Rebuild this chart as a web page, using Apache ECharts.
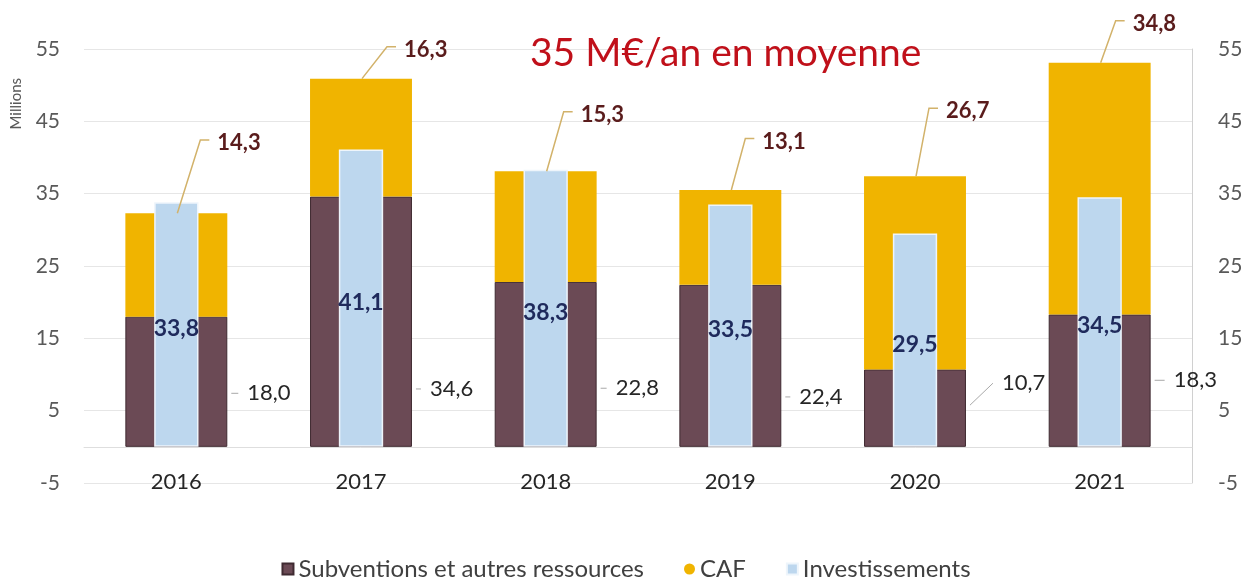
<!DOCTYPE html>
<html><head><meta charset="utf-8">
<script src="https://cdn.jsdelivr.net/npm/echarts@6/dist/echarts.min.js"></script>
<style>html,body{margin:0;padding:0;background:#fff}#c{width:1252px;height:578px}</style>
</head><body><div id="c"></div>
<script>
// ---- data ----
const categories = ['2016', '2017', '2018', '2019', '2020', '2021'];
const subventions = [18.0, 34.6, 22.8, 22.4, 10.7, 18.3];
const caf = [14.3, 16.3, 15.3, 13.1, 26.7, 34.8];
const investissements = [33.8, 41.1, 38.3, 33.5, 29.5, 34.5];
const seriesNames = ['Subventions et autres ressources', 'CAF', 'Investissements'];
const titleText = '35 M€/an en moyenne';
const unitText = 'Millions';

// ---- label placement (not data) ----
const cafLabelLevel = [42.0, 54.9, 45.9, 42.2, 46.4, 58.5];   // value level of label centre
const cafLabelDx = [41, 43, 35, 32, 31, 33];                  // px from category centre
const subvLabelLevel = [7.4, 8.0, 8.1, 6.9, 8.8, 9.2];
const subvLabelGap = [20, 18, 19, 18, 36, 23];                 // px from bar right edge
const subvLineDrop = [0, 0, 0, 0, 22, 0];

const FONT = 'Lato, "Open Sans", sans-serif';
const WIDE = 0.552, NARROW = 0.24;
const fmt = v => v.toFixed(1).replace('.', ',');

const chart = echarts.init(document.getElementById('c'), null, {renderer: 'canvas'});

const yAxisBase = {
  type: 'value', min: -5, max: 55, interval: 10,
  axisTick: {show: false},
  axisLabel: {fontSize: 21, color: '#595959', fontFamily: FONT}
};

const option = {
  animation: false,
  textStyle: {fontFamily: FONT},
  title: {
    text: titleText, left: 525, top: 29,
    textStyle: {color: '#c0101a', fontSize: 39, fontWeight: 'normal', fontFamily: FONT}
  },
  graphic: [{
    type: 'text', left: 9, top: 78, rotation: Math.PI / 2,
    style: {text: unitText, font: '15px ' + FONT, fill: '#595959'}
  }],
  legend: {
    top: 552, left: 'center', itemGap: 40, itemWidth: 11, itemHeight: 11,
    textStyle: {fontSize: 24, color: '#404040', fontFamily: FONT},
    data: [
      {name: seriesNames[0], icon: 'rect'},
      {name: seriesNames[1], icon: 'circle'},
      {name: seriesNames[2], icon: 'rect'}
    ]
  },
  grid: {left: 84, right: 60, top: 49, bottom: 95},
  xAxis: [{
    type: 'category', data: categories,
    axisLine: {onZero: true, lineStyle: {color: '#dedede'}},
    axisTick: {show: false},
    axisLabel: {fontSize: 22, color: '#262626', margin: -12, fontFamily: FONT}
  }, {
    type: 'category', data: categories, show: false
  }],
  yAxis: [
    Object.assign({}, yAxisBase, {
      position: 'left', axisLine: {show: false},
      axisLabel: Object.assign({}, yAxisBase.axisLabel, {margin: 24}),
      splitLine: {show: true, lineStyle: {color: '#e6e6e6'}}
    }),
    Object.assign({}, yAxisBase, {
      position: 'right', axisLine: {show: true, lineStyle: {color: '#d0d0d0'}},
      axisLabel: Object.assign({}, yAxisBase.axisLabel, {margin: 26}),
      splitLine: {show: false}
    })
  ],
  series: [
    {
      name: seriesNames[0], type: 'bar', stack: 'res', xAxisIndex: 0, yAxisIndex: 0,
      barWidth: (WIDE * 100) + '%', data: subventions,
      itemStyle: {color: '#6b4a55', borderColor: '#3f2a31', borderWidth: 1}
    },
    {
      name: seriesNames[1], type: 'bar', stack: 'res', xAxisIndex: 0, yAxisIndex: 0,
      barWidth: (WIDE * 100) + '%', data: caf,
      itemStyle: {color: '#f0b400'}
    },
    {
      name: seriesNames[2], type: 'bar', xAxisIndex: 1, yAxisIndex: 0,
      barWidth: (NARROW * 100) + '%', data: investissements, z: 3,
      itemStyle: {color: '#bdd7ee', borderColor: '#eef5fb', borderWidth: 1.5},
      label: {
        show: true, position: 'inside', offset: [0, 4],
        formatter: p => fmt(p.value),
        fontSize: 23, fontWeight: 'bold', color: '#1f2a5c', fontFamily: FONT
      }
    },
    {
      name: 'cafLabels', type: 'custom', xAxisIndex: 0, yAxisIndex: 0, z: 5,
      silent: true, legendHoverLink: false,
      data: categories.map((c, i) => [i, caf[i]]),
      encode: {x: 0, y: 1},
      renderItem: function (params, api) {
        const i = params.dataIndex;
        const top = api.coord([i, subventions[i] + caf[i]]);
        const ly = api.coord([i, cafLabelLevel[i]])[1];
        const lx = top[0] + cafLabelDx[i];
        return {
          type: 'group', children: [
            {type: 'polyline', shape: {points: [[top[0] + 1, top[1]], [lx - 17, ly - 3], [lx - 8, ly - 3]]},
             style: {stroke: '#d2b26a', lineWidth: 1.5, fill: null}},
            {type: 'text', style: {x: lx, y: ly, text: fmt(caf[i]), fill: '#5a1c1c',
             font: 'bold 22px ' + FONT, align: 'left', verticalAlign: 'middle'}}
          ]
        };
      }
    },
    {
      name: 'subvLabels', type: 'custom', xAxisIndex: 0, yAxisIndex: 0, z: 5,
      silent: true, legendHoverLink: false,
      data: categories.map((c, i) => [i, subventions[i]]),
      encode: {x: 0, y: 1},
      renderItem: function (params, api) {
        const i = params.dataIndex;
        const base = api.coord([i, 0]);
        const bw = api.size([1, 0])[0] * WIDE;
        const right = base[0] + bw / 2;
        const ly = api.coord([i, subvLabelLevel[i]])[1];
        const lx = right + subvLabelGap[i];
        return {
          type: 'group', children: [
            {type: 'polyline', shape: {points: [[right + 4, ly + subvLineDrop[i]], [lx - 9, ly]]},
             style: {stroke: '#a8a8a8', lineWidth: 1, fill: null}},
            {type: 'text', style: {x: lx, y: ly, text: fmt(subventions[i]), fill: '#262626',
             font: '22px ' + FONT, align: 'left', verticalAlign: 'middle'}}
          ]
        };
      }
    }
  ]
};
chart.setOption(option);
</script>
</body></html>
